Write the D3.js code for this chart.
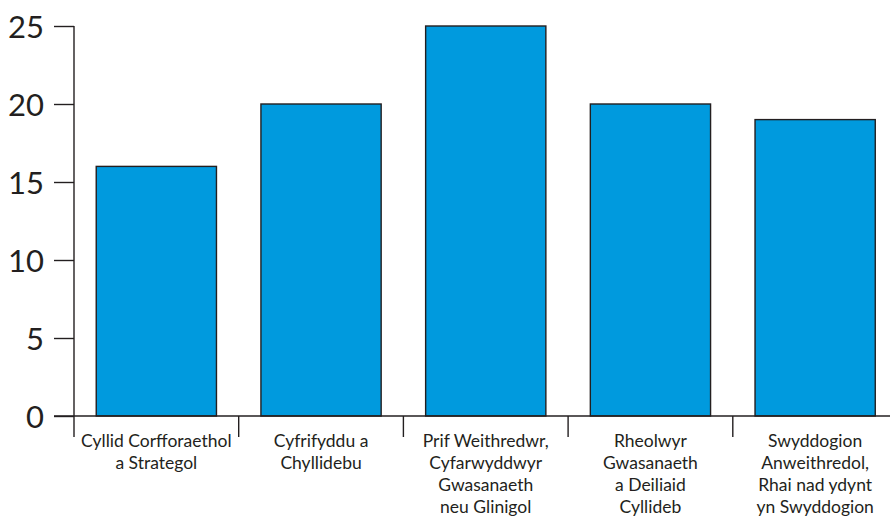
<!DOCTYPE html>
<html>
<head>
<meta charset="utf-8">
<script src="https://cdn.jsdelivr.net/npm/d3@7"></script>
<style>
  body { margin: 0; background: #fff; }
  text { font-family: Lato, "Open Sans", sans-serif; fill: #231f20; }
</style>
</head>
<body>
<div id="chart"></div>
<script>
// data
var categories = [
  ["Cyllid Corfforaethol", "a Strategol"],
  ["Cyfrifyddu a", "Chyllidebu"],
  ["Prif Weithredwr,", "Cyfarwyddwyr", "Gwasanaeth", "neu Glinigol"],
  ["Rheolwyr", "Gwasanaeth", "a Deiliaid", "Cyllideb"],
  ["Swyddogion", "Anweithredol,", "Rhai nad ydynt", "yn Swyddogion"]
];
var values = [16, 20, 25, 20, 19];
var yTicks = [0, 5, 10, 15, 20, 25];

var svgWidth = 890;
var svgHeight = 518;

var svg = d3.select("#chart")
  .append("svg")
  .attr("width", svgWidth)
  .attr("height", svgHeight);

var x0 = 74, y0 = 416;

var xScale = d3.scaleBand()
  .domain(d3.range(categories.length))
  .range([x0, 897.5])
  .paddingInner(0.27)
  .paddingOuter(0.135);

var yScale = d3.scaleLinear()
  .domain([0, 25])
  .range([y0, 26]);

var step = xScale.step();
var bandStart = function(i) { return xScale(i) - xScale.paddingOuter() * step; };

// bars
svg.selectAll("rect.bar")
  .data(values)
  .enter()
  .append("rect")
  .attr("class", "bar")
  .attr("x", (d, i) => xScale(i))
  .attr("y", d => yScale(d))
  .attr("width", xScale.bandwidth())
  .attr("height", d => y0 - yScale(d))
  .attr("fill", "#009ade")
  .attr("stroke", "#231f20")
  .attr("stroke-width", 1.4);

// y axis
var leftAxis = d3.axisLeft(yScale)
  .tickValues(yTicks)
  .tickSize(20)
  .tickPadding(10);

var yAxis = svg.append("g")
  .attr("transform", `translate(${x0},0)`)
  .call(leftAxis);
yAxis.select(".domain").remove();
yAxis.selectAll("line").attr("stroke", "#231f20").attr("stroke-width", 1.4);
yAxis.selectAll("text")
  .attr("font-size", 31)
  .attr("font-family", "Lato, sans-serif")
  .attr("fill", "#231f20")
  .attr("dy", "0.36em");

svg.append("line")
  .attr("x1", x0).attr("x2", x0)
  .attr("y1", yScale(25)).attr("y2", 437)
  .attr("stroke", "#231f20").attr("stroke-width", 1.4);

// x axis
svg.append("line")
  .attr("x1", x0 - 20).attr("x2", svgWidth)
  .attr("y1", y0).attr("y2", y0)
  .attr("stroke", "#231f20").attr("stroke-width", 1.4);

svg.selectAll("line.sep")
  .data(d3.range(1, categories.length))
  .enter()
  .append("line")
  .attr("class", "sep")
  .attr("x1", i => bandStart(i)).attr("x2", i => bandStart(i))
  .attr("y1", y0).attr("y2", 437)
  .attr("stroke", "#231f20").attr("stroke-width", 1.4);

// category labels
var labels = svg.selectAll("text.cat")
  .data(categories)
  .enter()
  .append("text")
  .attr("class", "cat")
  .attr("text-anchor", "middle")
  .attr("font-size", 17.5)
  .attr("x", (d, i) => xScale(i) + xScale.bandwidth() / 2)
  .attr("y", 447);

labels.selectAll("tspan")
  .data(d => d)
  .enter()
  .append("tspan")
  .attr("x", function() { return d3.select(this.parentNode).attr("x"); })
  .attr("dy", (d, i) => i === 0 ? 0 : 22)
  .text(d => d);
</script>
</body>
</html>
